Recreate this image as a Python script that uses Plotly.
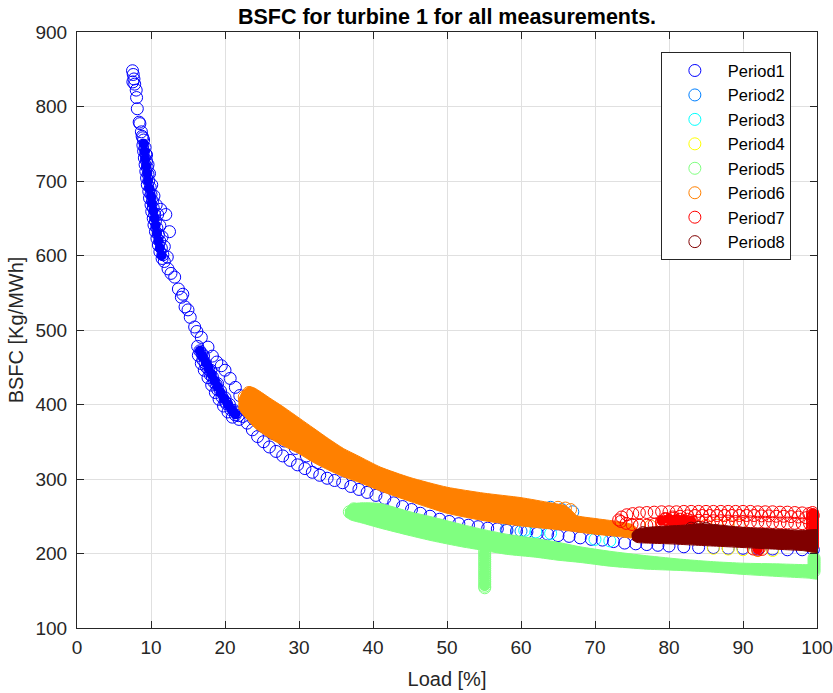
import plotly.graph_objects as go

# ---------------- data: Load [%] vs BSFC [Kg/MWh] ----------------
# Period 1 - single measurements
p1_load = [
    7.5, 7.6, 7.7, 7.55, 7.8, 8.0, 8.05, 8.15, 8.4, 8.5, 8.7, 8.9,
    8.8, 9.0, 8.9, 9.2, 9.0, 9.3, 9.1, 9.4, 9.2, 9.5, 9.3, 9.6, 9.4, 9.7, 9.5, 9.9,
    9.7, 10.0, 9.8, 10.2, 10.0, 10.3, 10.1, 10.5, 10.3, 10.6, 10.4, 10.8, 10.6, 11.0,
    10.8, 11.2, 11.0, 11.4, 11.2, 11.6, 11.5, 11.8, 12.2, 11.8, 11.5, 11.2, 10.9, 10.7,
    10.4, 10.1, 9.8, 9.6, 9.4, 12.5, 12.0, 11.3,
    12.3, 12.7, 13.2, 13.7, 14.1, 14.3, 14.6, 15.0, 15.3, 15.9, 16.2, 16.8, 17.7,
    18.3, 18.9, 19.5, 20.0, 20.7, 21.4, 22.0,
    16.3, 16.6, 16.4, 16.9, 17.0, 16.8, 17.3, 17.5, 17.2, 17.8, 18.0, 17.7, 18.3, 18.5,
    18.2, 18.8, 19.0, 18.7, 19.4, 19.6, 19.2, 20.0, 20.2, 19.8, 20.6, 20.8, 20.4, 21.2,
    21.4, 21.0, 21.8, 21.9, 17.1, 18.1, 19.0, 20.0, 21.5,
    22.8, 23.8, 25.0, 26.5, 28.0, 29.5, 31.0, 32.5,
    22.4, 23.0, 23.7, 24.4, 25.2, 26.0, 26.9, 27.8, 28.8, 29.8, 30.8, 31.8, 32.8, 33.8,
    34.8, 35.9, 37.0, 38.1, 39.2, 40.4, 41.6, 42.8, 44.0, 45.2, 46.4, 47.7, 49.0, 50.3,
    51.6, 52.9, 54.2, 55.5, 56.8, 58.1, 59.4, 60.8, 62.2, 63.6, 65.0, 66.5, 68.0, 69.5,
    71.0, 72.5, 74.0, 75.5, 77.0, 78.5, 80.0, 82.0, 84.0, 86.0, 88.0, 90.0, 92.0, 94.0,
    96.0, 98.0, 99.5,
]
p1_bsfc = [
    848, 843, 837, 833, 830, 822, 812, 797, 779, 777, 766, 758,
    760, 755, 748, 745, 740, 736, 731, 727, 722, 718, 713, 709, 704, 700, 695, 691,
    686, 682, 677, 673, 668, 664, 659, 655, 650, 646, 641, 637, 632, 628,
    623, 619, 614, 610, 605, 601, 596, 592, 598, 612, 625, 640, 655, 668,
    680, 695, 710, 722, 735, 632, 655, 662,
    582, 576, 571, 555, 544, 548, 531, 527, 517, 504, 498, 490, 477,
    465, 457, 452, 446, 435, 423, 412,
    478, 472, 466, 468, 460, 455, 456, 450, 446, 447, 440, 436, 437, 430,
    426, 427, 420, 416, 418, 410, 407, 409, 401, 398, 400, 393, 390, 392,
    386, 383, 385, 380, 465, 446, 428, 404, 389,
    392, 381, 371, 361, 351, 341, 331, 322,
    384, 375, 366, 357, 350, 343, 337, 331, 325, 319, 314, 309, 305, 301,
    298, 295, 290, 286, 282, 278, 274, 268, 263, 259, 254, 250, 246, 243,
    240, 238, 236, 234, 233, 231, 230, 229, 227, 226, 224, 223, 221, 219,
    218, 216, 214, 213, 212, 211, 210, 209, 208, 208, 207, 207, 206, 206,
    205, 205, 205,
]
# Period 1 - densely overlapping measurements
p1_dense_load = [9.0, 9.1, 9.2, 9.35, 9.5, 9.6, 9.8, 10.0, 10.1, 10.3, 10.45, 10.6,
                 10.8, 11.0, 11.2, 11.45,
                 16.6, 17.0, 17.4, 17.8, 18.2, 18.6, 19.0, 19.4, 19.9, 20.4, 20.9, 21.4]
p1_dense_bsfc = [750, 740, 730, 720, 710, 700, 690, 680, 670, 660, 650, 640,
                 630, 620, 610, 600,
                 472, 464, 456, 448, 440, 432, 424, 416, 408, 400, 393, 387]

p2_load = [58.0, 60.0, 64.0, 65.5, 67.0]
p2_bsfc = [232, 230, 262, 259, 256]

p3_load = [60.5, 62.0, 64.0, 70.0, 72.0]
p3_bsfc = [231, 229, 227, 219, 217]

p4_load = [86.0, 88.0, 90.0, 92.0, 94.0]
p4_bsfc = [207, 206, 205, 204, 204]

# Period 5 - dense band (outer envelope) plus separate columns of points
p5_band_load = [36.2, 37.0, 38.5, 41.0, 45.0, 48.0, 52.0, 55.0, 58.0, 62.0, 65.0,
                68.0, 72.0, 77.0, 82.0, 86.0, 90.0, 95.0, 98.8, 100.4]
p5_band_top = [258, 266, 268, 267, 256, 249, 239, 232, 226, 220, 215,
               209, 203, 197, 192, 189, 187, 186, 185, 186]
p5_band_bottom = [250, 245, 241, 234, 224, 217, 209, 204, 199, 195, 191,
                  188, 183, 179, 177, 175, 172, 169, 167, 166]
p5_load = [36.8, 37.4,
           55.1, 55.1, 55.1, 55.1, 55.1, 55.1, 55.1, 55.1, 55.1, 55.1, 55.1, 55.1,
           55.1, 55.1, 55.1, 55.1, 55.1, 55.1,
           99.6, 99.6, 99.6, 99.6, 99.6, 99.6, 99.6]
p5_bsfc = [256, 260,
           154, 156, 159, 162, 165, 168, 171, 174, 177, 180, 183, 186,
           189, 192, 195, 198, 201, 204,
           176, 179, 182, 185, 188, 191, 194]
p5_dense_load = [55.1, 55.1, 55.1, 55.1, 55.1, 55.1, 55.1, 55.1, 55.1, 55.1, 55.1, 55.1, 55.1,
                 99.6, 99.6, 99.6, 99.6, 99.6, 99.6]
p5_dense_bsfc = [156, 160, 164, 168, 172, 176, 180, 184, 188, 192, 196, 200, 204,
                 176, 180, 184, 188, 192, 196]

# Period 6 - dense band plus scattered points
p6_band_load = [21.8, 22.3, 23.2, 24.0, 26.0, 28.0, 30.0, 32.0, 34.0, 36.0, 38.0, 41.0,
                45.0, 50.0, 55.0, 60.0, 64.0, 66.0, 66.8, 67.5, 70.0, 73.0, 75.0, 75.8]
p6_band_top = [405, 416, 424, 422, 409, 396, 382, 368, 354, 341, 331, 316,
               302, 289, 281, 275, 268, 264, 258, 251, 247, 243, 239, 232]
p6_band_bottom = [395, 388, 378, 369, 355, 344, 334, 322, 312, 303, 296, 284,
                  270, 254, 244, 237, 233, 231, 230, 229, 226, 223, 221, 224]
p6_load = [22.6, 23.2, 22.9, 65.0, 66.0, 66.7,
           76.0, 77.5, 79.0, 80.5, 82.0, 83.5, 85.0, 86.5, 88.0, 89.5]
p6_bsfc = [410, 416, 400, 262, 261, 259,
           238, 237, 237, 237, 237, 237, 238, 238, 238, 238]

# Period 7 - loop of measurements
p7_load = [
    73.2, 73.6, 74.3, 75.1, 76.0, 77.0, 78.0, 79.0, 80.0, 81.0, 82.0, 83.0, 84.0, 85.0,
    86.0, 87.0, 88.0, 89.0, 90.0, 91.0, 92.0, 93.0, 94.0, 95.0, 96.0, 97.0, 98.0, 98.9, 99.5,
    79.5, 80.5, 81.5, 82.5, 83.5, 84.5, 85.5, 86.5, 87.5, 88.5, 89.5, 90.5, 91.5, 92.5,
    93.5, 94.5, 95.5, 96.5, 97.5, 98.5,
    73.5, 74.2, 75.0, 76.0, 77.0, 78.0, 79.0, 80.0, 81.0, 82.0, 83.0, 84.0, 85.0, 86.0,
    87.0, 88.0, 89.0, 90.0, 91.0, 92.0, 93.0, 94.0, 95.0, 96.0, 97.0, 98.0, 99.0,
    79.5, 80.5, 81.5, 82.5, 80.0, 81.0, 79.0,
    99.4, 99.4, 99.4, 99.4, 99.4, 99.4, 99.4, 99.4, 99.4, 99.4, 99.4, 99.4, 99.4, 99.4,
    99.4, 99.4, 100.2, 100.2, 100.2, 100.2,
    91.4, 92.0, 92.6, 92.2,
]
p7_bsfc = [
    245, 249, 252, 253.5, 254.5, 255, 255.5, 256, 256, 256, 256.5, 256.5, 256.5, 256.5,
    256.5, 256.5, 256.5, 256.5, 256.5, 256.5, 256, 256, 256, 255.5, 255.5, 255, 254.5, 253.5, 251,
    247, 249, 250, 250.5, 251, 251, 251, 251, 251, 251, 251, 251, 251, 250.5,
    250.5, 250, 250, 249.5, 249, 248,
    243, 240.5, 239, 238, 238, 239, 241, 243, 244, 244, 244, 244.5, 244.5, 244,
    244, 243.5, 243, 243, 242.5, 242, 242, 241.5, 241, 241, 240.5, 240, 240,
    246, 247, 246, 246, 244.5, 243, 243,
    210, 213, 216, 219, 222, 225, 228, 231, 234, 237, 240, 243, 246, 249,
    252, 255, 220, 235, 245, 252,
    206, 204.5, 205.5, 207,
]
p7_dense_load = [99.5, 99.5, 99.5, 99.5, 99.5, 99.5, 99.5, 99.5, 99.5, 99.5,
                 79.0, 80.0, 81.0, 82.0, 83.0, 80.5, 81.5, 92.0]
p7_dense_bsfc = [210, 215, 220, 225, 230, 235, 240, 245, 250, 254,
                 244, 246, 246, 245, 244, 241, 241, 205.5]

# Period 8 - dense band plus a few edge points
p8_band_load = [75.0, 75.6, 77.0, 80.0, 82.0, 84.0, 86.0, 88.0, 90.0, 92.0, 94.0,
                96.0, 98.0, 100.5]
p8_band_top = [226, 232, 235, 237, 238, 240, 239, 237, 235, 234, 233, 232, 231, 231]
p8_band_bottom = [219, 215, 214, 213, 212, 211, 210, 209, 208, 207, 206, 205, 204, 202]
p8_load = [75.8, 76.5, 83.0, 84.0, 85.0]
p8_bsfc = [224, 228, 234, 235, 234]

period_names = ["Period1", "Period2", "Period3", "Period4",
                "Period5", "Period6", "Period7", "Period8"]
period_colors = ["#0000FF", "#0080FF", "#00FFFF", "#FFFF00",
                 "#80FF80", "#FF8000", "#FF0000", "#800000"]

points = [
    (p1_load, p1_bsfc), (p2_load, p2_bsfc), (p3_load, p3_bsfc), (p4_load, p4_bsfc),
    (p5_load, p5_bsfc), (p6_load, p6_bsfc), (p7_load, p7_bsfc), (p8_load, p8_bsfc),
]
dense = {
    0: (p1_dense_load, p1_dense_bsfc),
    4: (p5_dense_load, p5_dense_bsfc),
    6: (p7_dense_load, p7_dense_bsfc),
}
bands = {
    4: (p5_band_load, p5_band_top, p5_band_bottom),
    5: (p6_band_load, p6_band_top, p6_band_bottom),
    7: (p8_band_load, p8_band_top, p8_band_bottom),
}

MARKER_SIZE = 12

fig = go.Figure()
for i, (name, color) in enumerate(zip(period_names, period_colors)):
    if i in bands:
        bl, bt, bb = bands[i]
        fig.add_trace(go.Scatter(
            x=list(bl) + list(bl)[::-1],
            y=list(bt) + list(bb)[::-1],
            mode="lines", fill="toself", fillcolor=color,
            line=dict(color=color, width=1, shape="spline", smoothing=0.6),
            legendgroup=name, showlegend=False, hoverinfo="skip",
        ))
    if i in dense:
        dx, dy = dense[i]
        fig.add_trace(go.Scatter(
            x=dx, y=dy, mode="markers", legendgroup=name, showlegend=False,
            marker=dict(symbol="circle", size=MARKER_SIZE - 2, color=color,
                        line=dict(width=0)),
            hoverinfo="skip", cliponaxis=False,
        ))
    xs, ys = points[i]
    fig.add_trace(go.Scatter(
        x=xs, y=ys, mode="markers", name=name, legendgroup=name,
        marker=dict(symbol="circle-open", size=MARKER_SIZE, color=color,
                    line=dict(width=1)),
        cliponaxis=False,
    ))

axis_common = dict(
    showline=True, linecolor="#262626", linewidth=1, mirror="ticks",
    ticks="inside", ticklen=7, tickwidth=1, tickcolor="#262626",
    showgrid=True, gridcolor="#e0e0e0", gridwidth=1, zeroline=False,
    tickfont=dict(size=19, color="#262626"), automargin=False,
)

fig.update_xaxes(range=[0, 100], dtick=10, tick0=0, ticklabelstandoff=2,
                 title=dict(text="Load [%]", font=dict(size=20, color="#262626"), standoff=15),
                 **axis_common)
fig.update_yaxes(range=[100, 900], dtick=100, tick0=100, ticklabelstandoff=5,
                 title=dict(text="BSFC [Kg/MWh]", font=dict(size=20, color="#262626"), standoff=6),
                 **axis_common)

fig.update_layout(
    width=833, height=693,
    margin=dict(l=77, r=16, t=32, b=65),
    paper_bgcolor="white", plot_bgcolor="white",
    font=dict(family="Liberation Sans, Arial, Helvetica, sans-serif", color="#262626"),
    title=dict(text="<b>BSFC for turbine 1 for all measurements.</b>",
               x=0.5, xref="paper", xanchor="center",
               y=1 - 16 / 693, yref="container", yanchor="middle",
               font=dict(size=21.5, color="#000000")),
    legend=dict(x=0.789, y=0.966, xanchor="left", yanchor="top",
                bgcolor="white", bordercolor="#262626", borderwidth=1,
                font=dict(size=16.5, color="#000000"), itemwidth=56,
                entrywidth=82, tracegroupgap=0),
    showlegend=True,
)

fig.write_html("out.html")
